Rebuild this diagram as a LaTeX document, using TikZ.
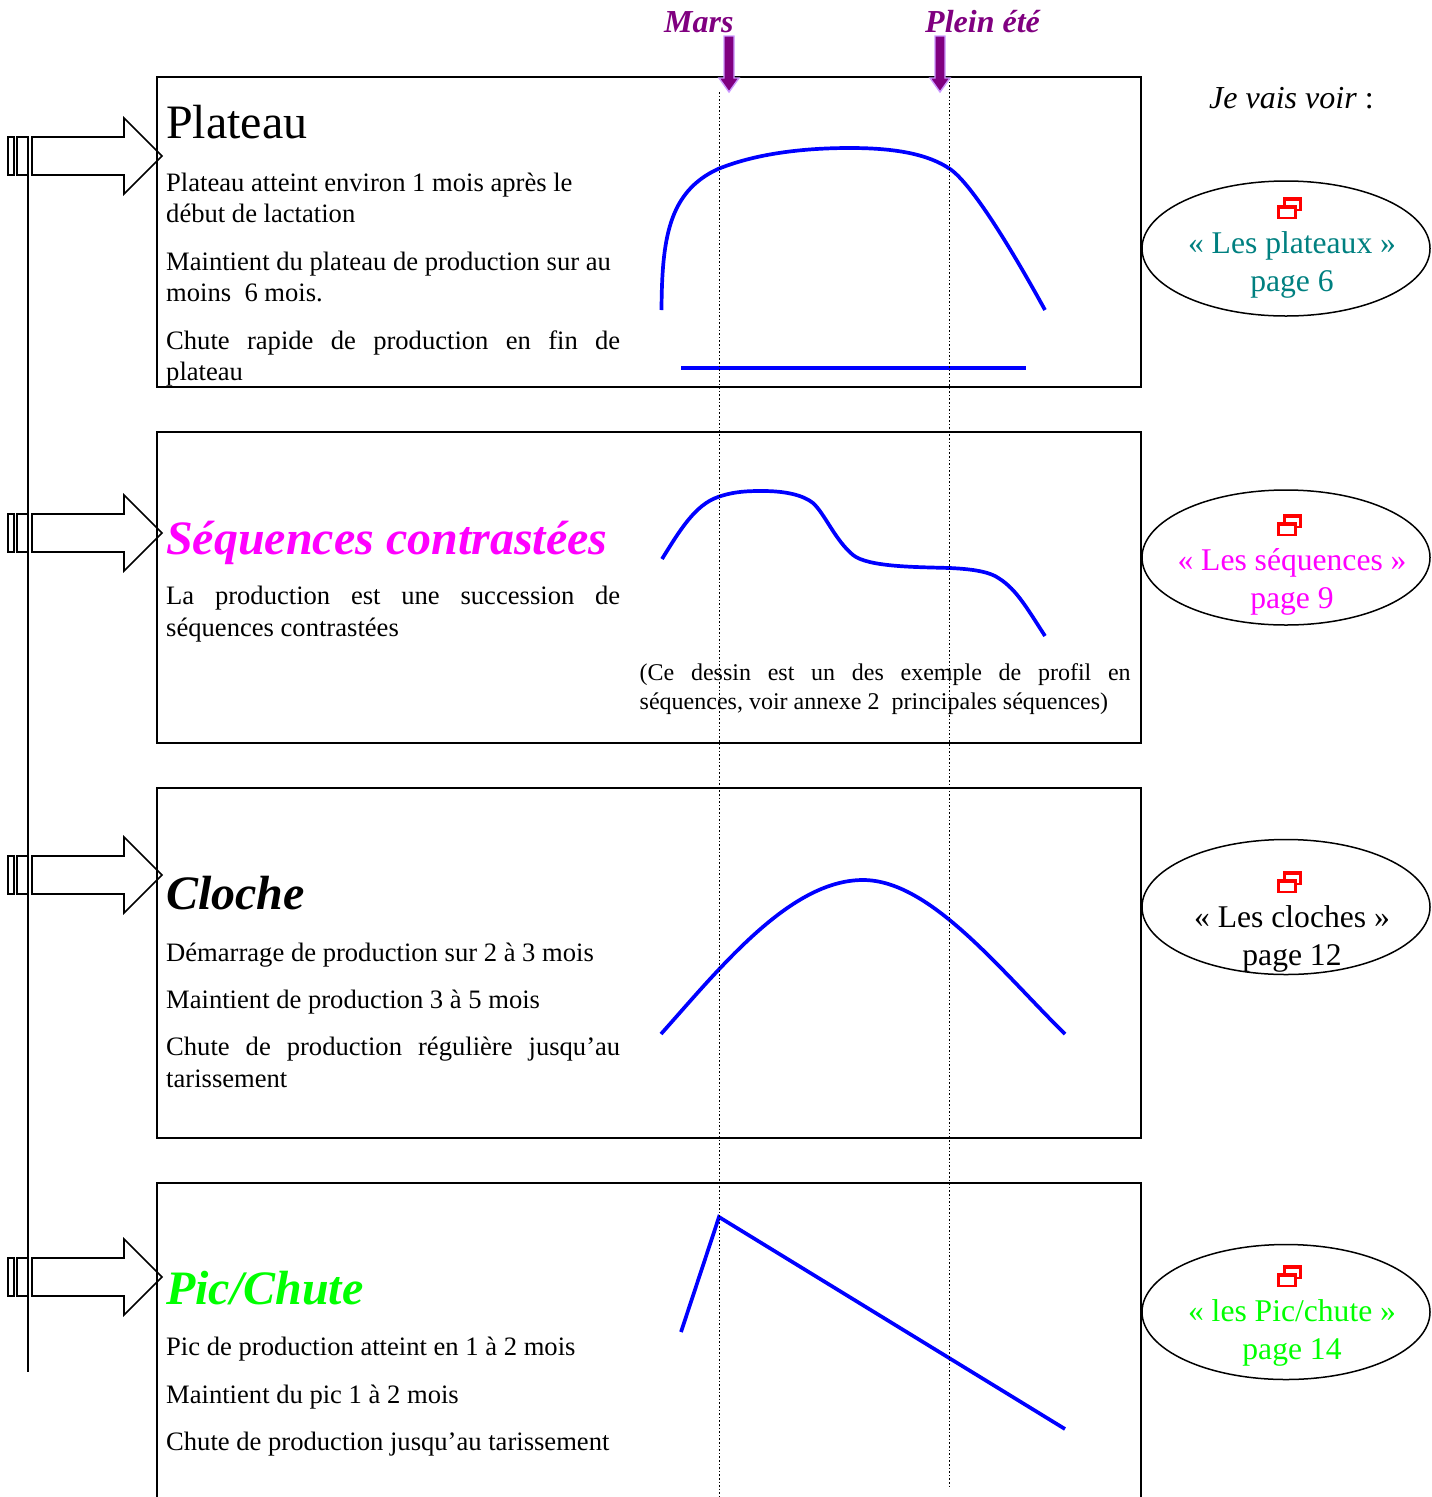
\documentclass[tikz,border=0pt]{standalone}
\usepackage{fontspec}
\setmainfont{Liberation Serif}
\usepackage{xcolor}
\usepackage{tikz}
\usetikzlibrary{shapes.geometric}
\definecolor{violet1}{HTML}{800080}
\definecolor{violet2}{HTML}{CC99FF}
\definecolor{teal1}{HTML}{008080}
\definecolor{pink1}{HTML}{FF00FF}
\newcommand{\jline}[1]{\hbox to 454pt{#1}}
\begin{document}
\begin{tikzpicture}[x=1pt,y=-1pt]
  \tikzstyle{frame}=[line width=1.5pt]
  \tikzstyle{curve}=[blue,line width=3.7pt]
  \tikzstyle{month}=[dash pattern=on 1.6pt off 2pt,line width=1.3pt]
  \tikzstyle{flag}=[draw=violet2,fill=violet1,line width=1.4pt]
  \tikzstyle{bigarrow}=[line width=1.6pt]
  \tikzstyle{body}=[anchor=base west,inner sep=0pt,align=left,font=\fontsize{26.6}{31}\selectfont]
  \tikzstyle{link}=[draw,ellipse,line width=1.5pt,minimum width=288pt,minimum height=135pt,inner sep=0pt]
  \tikzstyle{linktext}=[anchor=base,inner sep=0pt,align=center,font=\fontsize{31.6}{38}\selectfont]
  \tikzstyle{icon}=[red,line width=2.1pt]
  \tikzstyle{title}=[anchor=base west,inner sep=0pt,font=\fontsize{48}{56}\selectfont\bfseries\itshape]
  \useasboundingbox (0,0) rectangle (1432,1497);
  % cadres
  \draw[frame] (157,77) rectangle (1141,387);
  \draw[frame] (157,432) rectangle (1141,743);
  \draw[frame] (157,788) rectangle (1141,1138);
  \draw[frame] (157,1497) -- (157,1183) -- (1141,1183) -- (1141,1497);
  % fleches de gauche
  \draw[line width=1.9pt] (27.6,176) -- (27.6,1372);
  \foreach \yarrow in {156,533,875,1277} {
    \draw[bigarrow] (8,\yarrow-19) rectangle (14,\yarrow+19);
    \draw[bigarrow] (17,\yarrow-19) rectangle (28,\yarrow+19);
    \draw[bigarrow] (32,\yarrow-19) -- (124,\yarrow-19) -- (124,\yarrow-38) -- (162,\yarrow)
      -- (124,\yarrow+38) -- (124,\yarrow+19) -- (32,\yarrow+19) -- cycle;
  }
  % courbes
  \draw[curve] (661.5,310) .. controls (662,240) and (668,192) .. (718,169)
    .. controls (760,152) and (810,148) .. (850,148)
    .. controls (895,148) and (928,154) .. (950,169)
    .. controls (972,184) and (1012,250) .. (1045,310);
  \draw[curve] (681,368) -- (1026,368);
  \draw[curve] (662,559) .. controls (680,530) and (695,505) .. (718,497)
    .. controls (735,491) and (750,491) .. (763,491)
    .. controls (785,491) and (803,495) .. (813,503)
    .. controls (825,514) and (835,540) .. (853,555)
    .. controls (868,567) and (915,567) .. (950,568)
    .. controls (970,569) and (985,571) .. (995,576)
    .. controls (1015,587) and (1025,605) .. (1045,636);
  \draw[curve] (661,1034) .. controls (720,968) and (790,880) .. (863,880)
    .. controls (930,880) and (1000,970) .. (1065,1034);
  \draw[curve] (681,1332) -- (719,1217) -- (1065,1429);
  % reperes
  \draw[month] (719.3,92) -- (719.3,1497);
  \draw[month] (949.7,78) -- (949.7,1486);
  \draw[flag] (724,36) -- (734,36) -- (734,78) -- (739,78) -- (729,92) -- (719,78) -- (724,78) -- cycle;
  \draw[flag] (935,36) -- (945,36) -- (945,78) -- (950,78) -- (940,92) -- (930,78) -- (935,78) -- cycle;
  \node[anchor=base west,inner sep=0pt,violet1,font=\fontsize{32}{38}\selectfont\bfseries\itshape] (mars) at (664,32) {Mars};
  \node[anchor=base west,inner sep=0pt,violet1,font=\fontsize{32}{38}\selectfont\bfseries\itshape] (ete) at (925,32) {Plein été};
  \node[anchor=base west,inner sep=0pt,font=\fontsize{32}{38}\selectfont] (voir) at (1209,108) {\textit{Je vais voir} :};
  % plateau
  \node[anchor=base west,inner sep=0pt,font=\fontsize{48}{56}\selectfont] (plateau) at (166,138) {Plateau};
  \node[body] (plateau1) at (166,222) {Plateau atteint environ 1 mois après le\\début de lactation};
  \node[body] (plateau2) at (166,301) {Maintient du plateau de production sur au\\moins~ 6 mois.};
  \node[body] (plateau3) at (166,380) {\jline{Chute rapide de production en fin de}\\plateau};
  % sequences
  \node[title,pink1] (sequences) at (166,554) {Séquences contrastées};
  \node[body,font=\fontsize{26.6}{32}\selectfont] (sequences1) at (166,636) {\jline{La production est une succession de}\\séquences contrastées};
  \node[body,font=\fontsize{24}{29}\selectfont] (note) at (639.5,709.5) {\hbox to 491pt{(Ce dessin est un des exemple de profil en}\\séquences, voir annexe 2~ principales séquences)};
  % cloche
  \node[title] (cloche) at (166,909) {Cloche};
  \node[body] (cloche1) at (166,961) {Démarrage de production sur 2 à 3 mois};
  \node[body] (cloche2) at (166,1008) {Maintient de production 3 à 5 mois};
  \node[body,font=\fontsize{26.6}{32}\selectfont] (cloche3) at (166,1087) {\jline{Chute de production régulière jusqu’au}\\tarissement};
  % pic
  \node[title,green] (pic) at (166,1304) {Pic/Chute};
  \node[body] (pic1) at (166,1355) {Pic de production atteint en 1 à 2 mois};
  \node[body] (pic2) at (166,1403) {Maintient du pic 1 à 2 mois};
  \node[body] (pic3) at (166,1450) {Chute de production jusqu’au tarissement};
  % renvois
  \foreach \ylink/\yicon/\name/\col/\txta/\txtb in {
    248.5/208/plateaux/teal1/{« Les plateaux »}/{page 6},
    557.5/525/sequ/pink1/{« Les séquences »}/{page 9},
    907/882/cloches/black/{« Les cloches »}/{page 12},
    1312/1276/chute/green/{« les Pic/chute »}/{page 14}} {
    \node[link] (\name) at (1286,\ylink) {};
    \node[linktext,text=\col] (\name a) at (1292,\yicon+45) {\txta};
    \node[linktext,text=\col] (\name b) at (1292,\yicon+83) {\txtb};
    \draw[icon] (1284.5,\yicon-10) rectangle (1300.5,\yicon+2);
    \draw[icon,fill=white] (1278.5,\yicon-2) rectangle (1295.5,\yicon+10);
    \draw[icon,line width=3pt] (1284.5,\yicon-9) -- (1300.5,\yicon-9);
    \draw[icon,line width=3pt] (1278.5,\yicon-1) -- (1295.5,\yicon-1);
  }
\end{tikzpicture}
\end{document}
